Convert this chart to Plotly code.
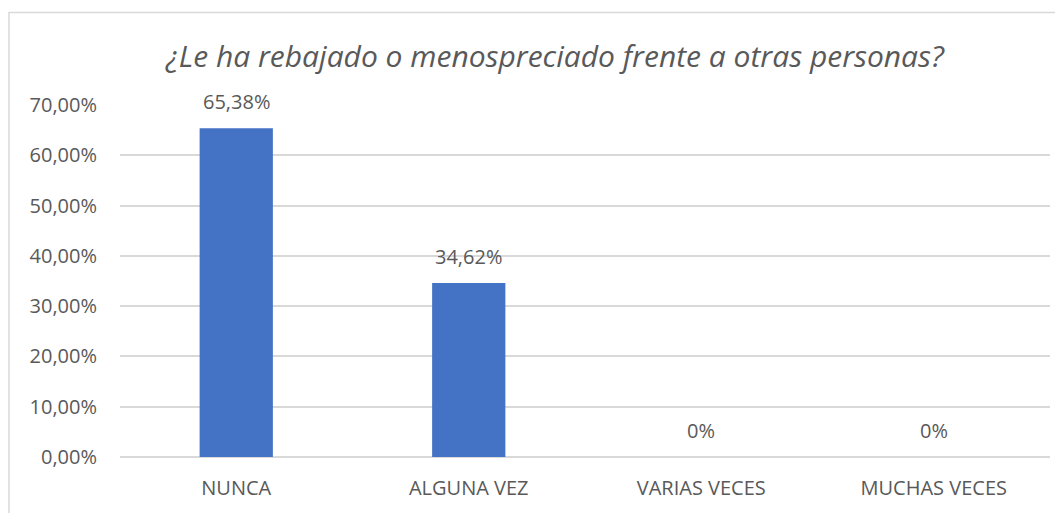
import plotly.graph_objects as go

categories = ["NUNCA", "ALGUNA VEZ", "VARIAS VECES", "MUCHAS VECES"]
values = [0.6538, 0.3462, 0.0, 0.0]
value_labels = ["65,38%", "34,62%", "0%", "0%"]
tick_vals = [0.0, 0.1, 0.2, 0.3, 0.4, 0.5, 0.6, 0.7]
tick_text = ["0,00%", "10,00%", "20,00%", "30,00%", "40,00%", "50,00%", "60,00%", "70,00%"]
title_text = "¿Le ha rebajado o menospreciado frente a otras personas?"

TEXT = "#595959"
FONT = "Open Sans"

# The page body has an 8px default margin, so the figure is 8px smaller each way.
W, H = 1055, 505
L, R, T, B = 112, 13, 97, 54
PW, PH = W - L - R, H - T - B


def px_x(x):
    return (x - L) / PW


def px_y(y):
    return (H - B - y) / PH


fig = go.Figure()
fig.add_trace(go.Bar(x=categories, y=values, marker=dict(color="#4472C4", line=dict(width=0)),
                     hoverinfo="skip"))

annotations = []
for c, v, t in zip(categories, values, value_labels):
    annotations.append(dict(x=c, y=v, xref="x", yref="y", text=t, showarrow=False,
                            yanchor="bottom", yshift=11,
                            font=dict(family=FONT, size=20, color=TEXT)))
annotations.append(dict(x=px_x(547), y=px_y(47), xref="paper", yref="paper", text=title_text,
                        showarrow=False, xanchor="center", yanchor="middle",
                        font=dict(family=FONT, size=30, color=TEXT, style="italic")))

fig.update_layout(
    width=W, height=H,
    margin=dict(l=L, r=R, t=T, b=B),
    paper_bgcolor="white", plot_bgcolor="white",
    bargap=0.685,
    showlegend=False,
    font=dict(family=FONT, color=TEXT, size=20),
    annotations=annotations,
    xaxis=dict(showgrid=False, showline=False, ticks="", ticklabelstandoff=17,
               tickfont=dict(size=20, color=TEXT)),
    yaxis=dict(range=[0, 0.7], tickvals=tick_vals, ticktext=tick_text, showgrid=True,
               gridcolor="#D9D9D9", gridwidth=1.5, zeroline=True, zerolinecolor="#D9D9D9",
               zerolinewidth=1.5, ticks="", ticklabelstandoff=22,
               tickfont=dict(size=20, color=TEXT)),
)

# chart border (extends beyond visible area on the right and bottom)
fig.add_shape(type="rect", xref="paper", yref="paper",
              x0=px_x(1), x1=px_x(1080), y0=px_y(530), y1=px_y(4),
              line=dict(color="#D9D9D9", width=1.5), fillcolor="rgba(0,0,0,0)", layer="below")

fig.write_html("out.html")
